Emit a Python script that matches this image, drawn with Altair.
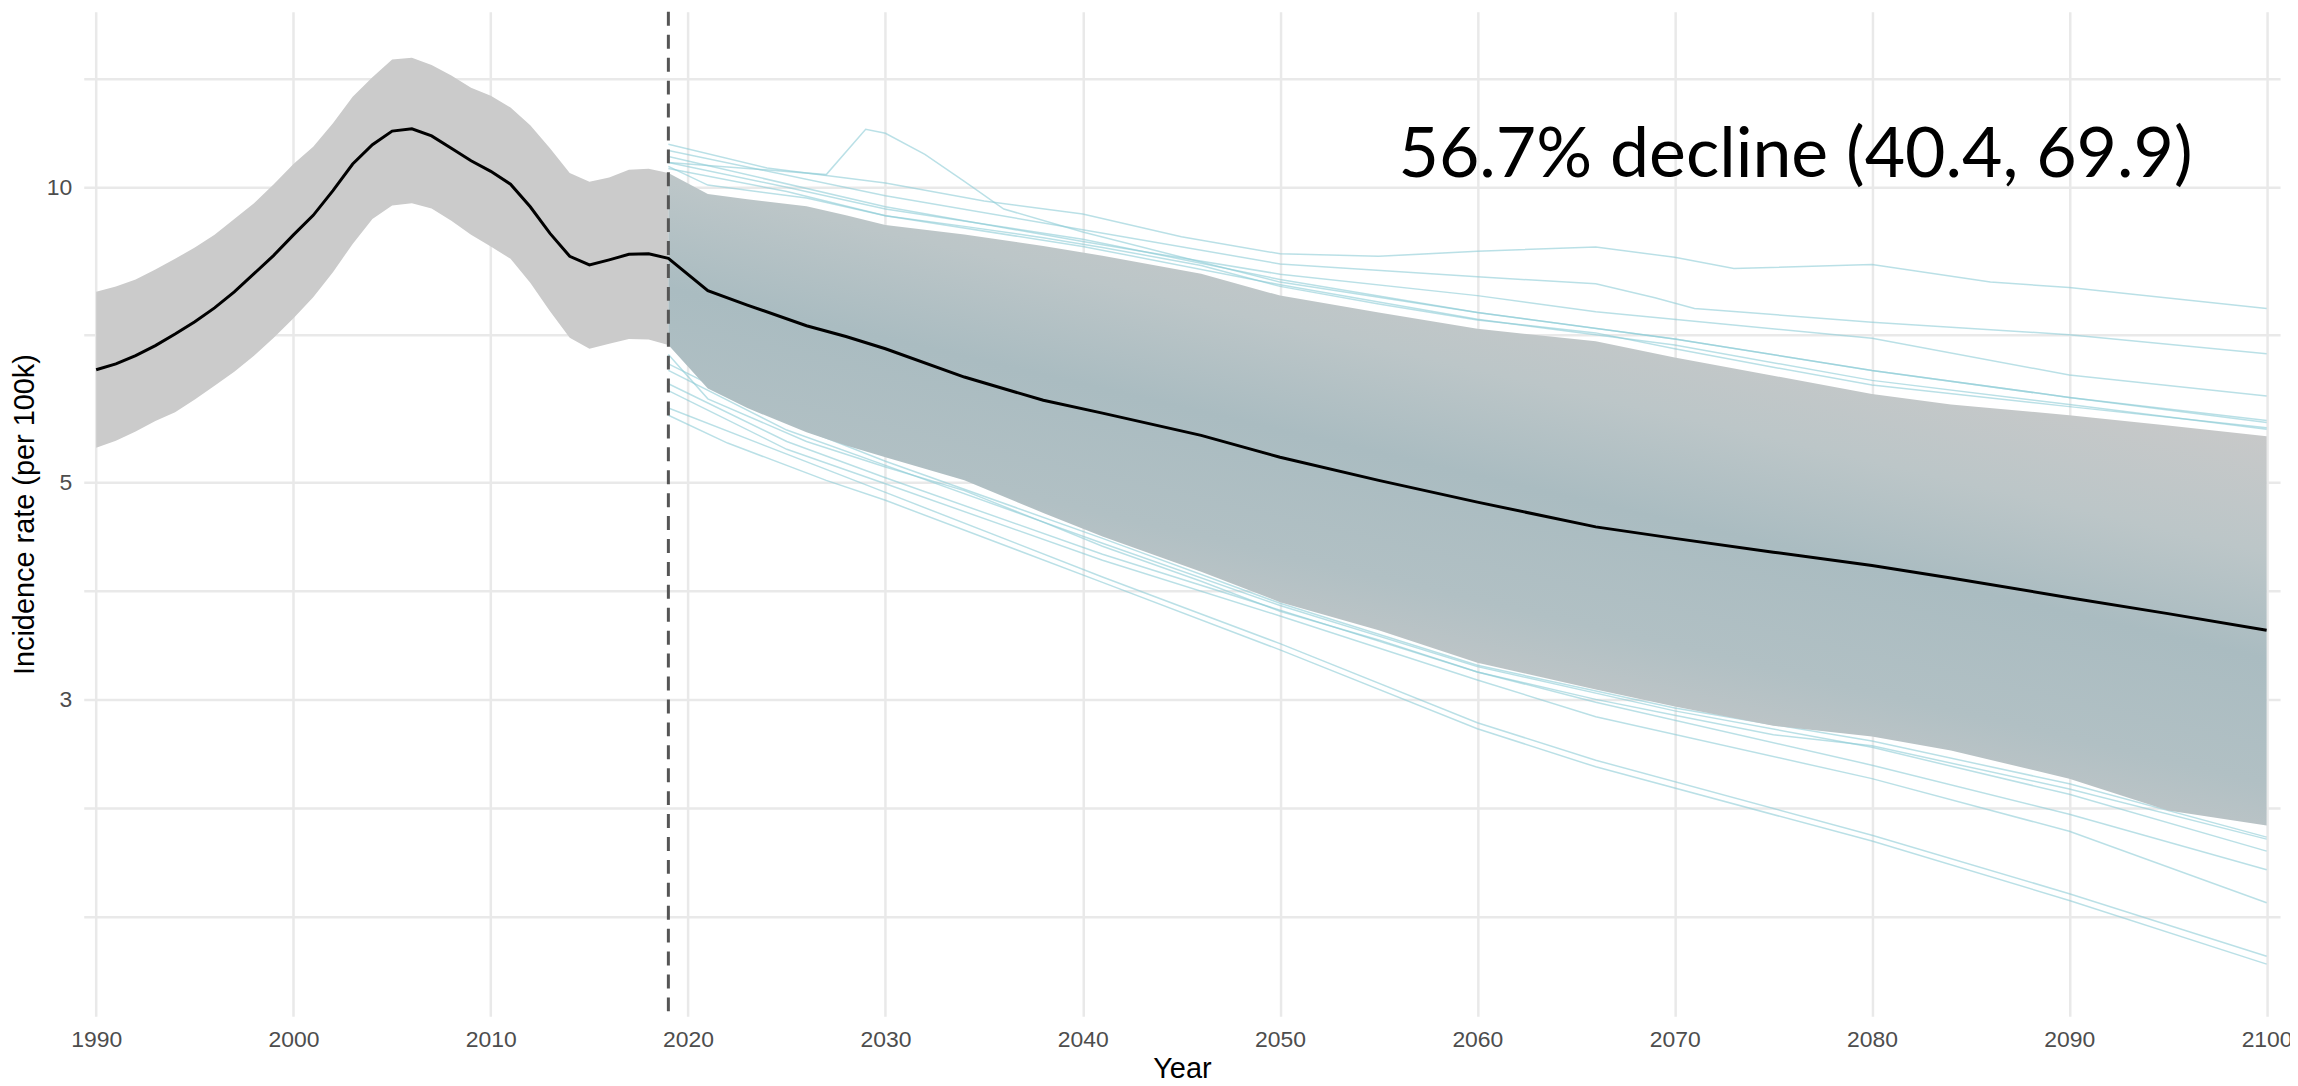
import altair as alt
import pandas as pd

# ---------------- data ----------------
hist_years = list(range(1990, 2020))
hist_median = [6.51, 6.60, 6.73, 6.89, 7.08, 7.29, 7.53, 7.82, 8.16, 8.52,
               8.94, 9.36, 9.92, 10.56, 11.05, 11.41, 11.47, 11.28, 10.96, 10.64,
               10.38, 10.07, 9.55, 8.97, 8.50, 8.33, 8.43, 8.54, 8.55, 8.46]
hist_upper = [7.82, 7.92, 8.05, 8.24, 8.45, 8.68, 8.94, 9.28, 9.63, 10.07,
              10.56, 11.00, 11.62, 12.37, 12.95, 13.50, 13.56, 13.33, 13.00, 12.63,
              12.40, 12.06, 11.57, 10.96, 10.34, 10.13, 10.23, 10.42, 10.44, 10.34]
hist_lower = [5.42, 5.51, 5.63, 5.77, 5.89, 6.07, 6.27, 6.48, 6.73, 7.02,
              7.35, 7.72, 8.19, 8.75, 9.28, 9.58, 9.63, 9.51, 9.24, 8.94,
              8.70, 8.45, 7.99, 7.47, 7.02, 6.84, 6.92, 7.00, 6.99, 6.90]

proj_years = [2019, 2021, 2023, 2026, 2028, 2030, 2034, 2038, 2041, 2046, 2050,
              2055, 2060, 2066, 2070, 2075, 2080, 2084, 2090, 2095, 2100]
proj_upper = [10.34, 9.84, 9.72, 9.56, 9.36, 9.15, 8.95, 8.71, 8.51, 8.16, 7.75,
              7.45, 7.17, 6.96, 6.70, 6.42, 6.15, 6.00, 5.85, 5.71, 5.57]
proj_median = [8.46, 7.84, 7.58, 7.22, 7.04, 6.84, 6.40, 6.06, 5.88, 5.58, 5.30,
               5.02, 4.77, 4.50, 4.38, 4.24, 4.11, 3.99, 3.81, 3.67, 3.53]
proj_lower = [6.90, 6.23, 5.95, 5.62, 5.45, 5.30, 5.02, 4.65, 4.40, 4.05, 3.77,
              3.53, 3.27, 3.07, 2.95, 2.82, 2.75, 2.66, 2.49, 2.31, 2.23]

# individual simulation runs visible outside the band
sim_a_years = [2019, 2024, 2030, 2035, 2040, 2045, 2050, 2055, 2060, 2066, 2070, 2073, 2080, 2086, 2090, 2100]
sim_a_vals = [11.06, 10.46, 10.10, 9.68, 9.39, 8.90, 8.55, 8.50, 8.60, 8.69, 8.48, 8.26, 8.34, 8.00, 7.90, 7.52]
sim_b_years = [2019, 2023, 2027, 2029, 2030, 2032, 2034, 2036, 2040, 2050, 2060, 2070, 2080, 2090, 2100]
sim_b_vals = [10.60, 10.45, 10.30, 11.46, 11.35, 10.80, 10.14, 9.50, 9.00, 8.00, 7.45, 7.00, 6.50, 6.10, 5.78]
sim_c_years = [2019, 2030, 2040, 2050, 2060, 2066, 2069, 2071, 2080, 2090, 2100]
sim_c_vals = [10.90, 9.80, 9.05, 8.35, 8.10, 7.97, 7.71, 7.52, 7.28, 7.07, 6.76]
sim_d_years = [2019, 2030, 2040, 2050, 2060, 2066, 2080, 2090, 2100]
sim_d_vals = [10.75, 9.55, 8.80, 8.15, 7.75, 7.46, 7.01, 6.43, 6.12]
sim_e_years = [2019, 2025, 2030, 2040, 2050, 2060, 2070, 2080, 2090, 2100]
sim_e_vals = [10.60, 10.00, 9.50, 8.85, 8.05, 7.45, 7.00, 6.50, 6.10, 5.75]
sim_f_years = [2019, 2025, 2030, 2040, 2050, 2060, 2070, 2080, 2090, 2100]
sim_f_vals = [10.45, 9.90, 9.35, 8.70, 7.95, 7.33, 6.90, 6.35, 6.00, 5.66]
sim_m_years = [2019, 2021, 2026, 2030, 2034, 2038, 2041, 2046, 2050, 2055, 2060, 2066, 2070, 2075, 2080, 2090, 2100]
sim_m_vals = [10.50, 10.05, 9.75, 9.35, 9.12, 8.88, 8.68, 8.32, 7.92, 7.60, 7.32, 7.10, 6.84, 6.55, 6.28, 5.97, 5.68]
sim_g_years = [2019, 2022, 2027, 2030, 2041, 2050, 2060, 2066, 2080, 2090, 2100]
sim_g_vals = [5.85, 5.48, 5.02, 4.79, 3.95, 3.37, 2.80, 2.56, 2.15, 1.87, 1.61]
sim_h_years = [2019, 2030, 2041, 2050, 2060, 2066, 2080, 2090, 2100]
sim_h_vals = [5.95, 4.88, 4.00, 3.42, 2.84, 2.60, 2.18, 1.90, 1.64]
sim_i_years = [2019, 2025, 2030, 2041, 2050, 2060, 2066, 2080, 2090, 2100]
sim_i_vals = [6.20, 5.40, 4.98, 4.16, 3.65, 3.14, 2.88, 2.49, 2.20, 1.86]
sim_j_years = [2019, 2025, 2030, 2041, 2050, 2060, 2066, 2080, 2090, 2100]
sim_j_vals = [6.30, 5.50, 5.05, 4.22, 3.70, 3.20, 2.98, 2.57, 2.29, 2.01]
sim_k_years = [2019, 2025, 2030, 2041, 2050, 2060, 2070, 2080, 2090, 2100]
sim_k_vals = [6.50, 5.65, 5.20, 4.33, 3.74, 3.24, 2.92, 2.68, 2.40, 2.10]
sim_l_years = [2019, 2025, 2030, 2041, 2050, 2060, 2070, 2080, 2090, 2100]
sim_l_vals = [6.60, 5.75, 5.25, 4.38, 3.76, 3.25, 2.94, 2.72, 2.46, 2.17]
sim_n_years = [2019, 2021, 2026, 2030, 2034, 2038, 2041, 2046, 2050, 2055, 2060, 2066, 2070, 2075, 2080, 2090, 2100]
sim_n_vals = [6.75, 6.08, 5.50, 5.18, 4.90, 4.55, 4.30, 3.96, 3.69, 3.45, 3.20, 3.00, 2.89, 2.76, 2.69, 2.43, 2.16]

cut_year = [2019]
label_text = ["56.7% decline (40.4, 69.9)"]
label_year = [2056]
label_value = [10.24]

x_ticks = list(range(1990, 2101, 10))
y_grid = [1.8, 2.324, 3, 3.873, 5, 7.071, 10, 12.91]

# ---------------- tables ----------------
hist_df = pd.DataFrame({"year": hist_years, "lower": hist_lower, "upper": hist_upper})
proj_df = pd.DataFrame({"year": proj_years, "lower": proj_lower, "upper": proj_upper})
median_df = pd.DataFrame({"year": hist_years + proj_years[1:],
                          "value": hist_median + proj_median[1:]})
sims = {
    "a": (sim_a_years, sim_a_vals), "b": (sim_b_years, sim_b_vals),
    "c": (sim_c_years, sim_c_vals), "d": (sim_d_years, sim_d_vals),
    "e": (sim_e_years, sim_e_vals), "f": (sim_f_years, sim_f_vals),
    "m": (sim_m_years, sim_m_vals),
    "g": (sim_g_years, sim_g_vals), "h": (sim_h_years, sim_h_vals),
    "i": (sim_i_years, sim_i_vals), "j": (sim_j_years, sim_j_vals),
    "k": (sim_k_years, sim_k_vals), "l": (sim_l_years, sim_l_vals),
    "n": (sim_n_years, sim_n_vals),
}
rows = []
for name, (ys, vs) in sims.items():
    for yv, vv in zip(ys, vs):
        rows.append({"run": name, "year": yv, "value": vv})
sim_df = pd.DataFrame(rows)
cut_df = pd.DataFrame({"year": cut_year})
label_df = pd.DataFrame({"year": label_year, "value": label_value, "text": label_text})

# ---------------- scales / axes ----------------
FONT = "Liberation Sans"
x_scale = alt.Scale(domain=[1989.37, 2100.68], nice=False, zero=False)
y_scale = alt.Scale(type="log", domain=[1.424, 15.10], nice=False, zero=False)

x_axis = alt.Axis(values=x_ticks, format="d", title="Year", grid=True,
                  ticks=False, domain=False, labelPadding=12, labelFlush=False,
                  labelOverlap=False, titleY=61, titleBaseline="alphabetic")
y_axis = alt.Axis(values=y_grid, title="Incidence rate (per 100k)", grid=True,
                  ticks=False, domain=False, labelPadding=12, labelFlush=False,
                  labelOverlap=False,
                  labelExpr="datum.value == 3 ? '3' : datum.value == 5 ? '5' : datum.value == 10 ? '10' : ''",
                  titleX=-59, titleY=504, titleAngle=-90, titleBaseline="middle",
                  titleAlign="center")

X = alt.X("year:Q", scale=x_scale, axis=x_axis)

hist_band = alt.Chart(hist_df).mark_area(color="#cbcbcb", opacity=1).encode(
    x=X,
    y=alt.Y("lower:Q", scale=y_scale, axis=y_axis),
    y2="upper:Q",
)

sim_lines = alt.Chart(sim_df).mark_line(color="#8ccbd6", strokeWidth=1.5, opacity=0.6).encode(
    x=X,
    y=alt.Y("value:Q", scale=y_scale, axis=y_axis),
    detail="run:N",
    order="year:Q",
)

band_grad = alt.Gradient(
    gradient="linear",
    stops=[alt.GradientStop(color="#c9c9c9", offset=0),
           alt.GradientStop(color="#bcc6c8", offset=0.28),
           alt.GradientStop(color="#aabcc1", offset=0.5),
           alt.GradientStop(color="#b1c0c4", offset=0.76),
           alt.GradientStop(color="#c6c8c9", offset=1)],
    x1=0.658, y1=0.182, x2=0.342, y2=0.738,
)
proj_band = alt.Chart(proj_df).mark_area(color=band_grad, opacity=1).encode(
    x=X,
    y=alt.Y("lower:Q", scale=y_scale, axis=y_axis),
    y2="upper:Q",
)

median_line = alt.Chart(median_df).mark_line(color="#000000", strokeWidth=3).encode(
    x=X,
    y=alt.Y("value:Q", scale=y_scale, axis=y_axis),
    order="year:Q",
)

cut_rule = alt.Chart(cut_df).mark_rule(color="#555555", strokeWidth=3,
                                       strokeDash=[14, 9]).encode(x=X)

label = alt.Chart(label_df).mark_text(align="left", baseline="alphabetic",
                                      font="Lato", fontSize=70,
                                      color="#000000").encode(
    x=X,
    y=alt.Y("value:Q", scale=y_scale, axis=y_axis),
    text="text:N",
)

chart = alt.layer(hist_band, sim_lines, proj_band, median_line, cut_rule, label).properties(
    width=2204,
    height=1008,
    autosize=alt.AutoSizeParams(type="none"),
    padding={"left": 76, "top": 2, "right": 10, "bottom": 66},
    background="#ffffff",
).configure_view(stroke=None).configure_axis(
    gridColor="#e9e9e9",
    gridWidth=2.5,
    labelFont=FONT,
    labelFontSize=23,
    labelColor="#4d4d4d",
    titleFont=FONT,
    titleFontSize=29,
    titleFontWeight="normal",
    titleColor="#000000",
)

chart.save("out.html", embed_options={"renderer": "svg", "actions": False})
